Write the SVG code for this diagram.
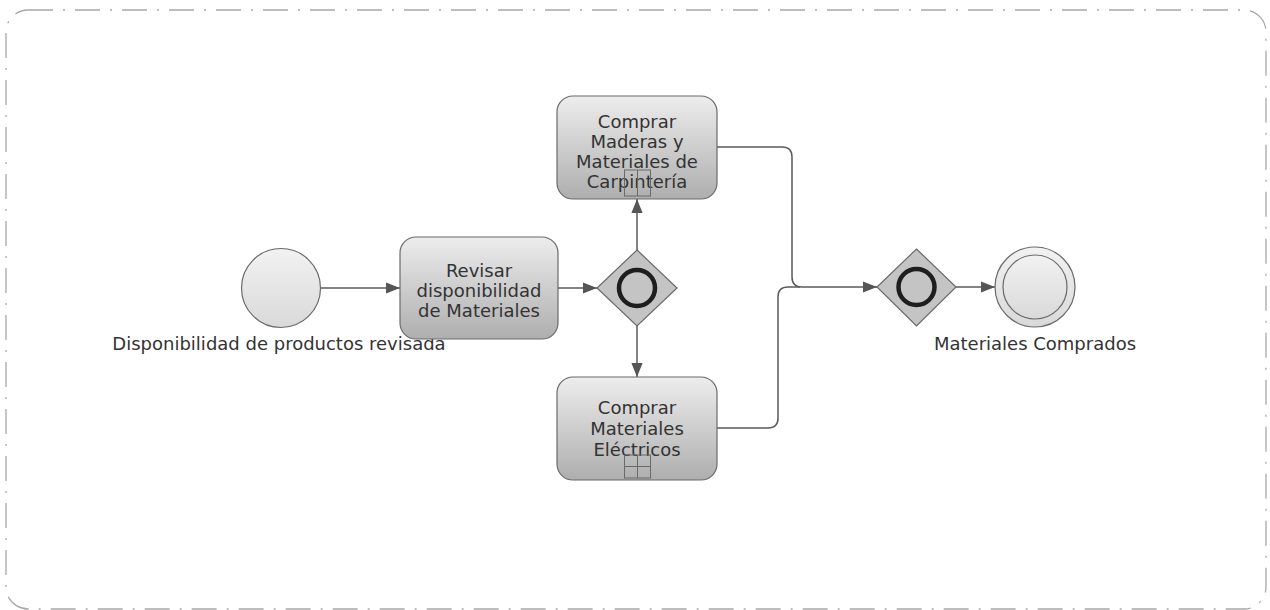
<svg xmlns="http://www.w3.org/2000/svg" width="1270" height="610" viewBox="0 0 1270 610">
  <defs>
    <linearGradient id="taskGrad" x1="0" y1="0" x2="0" y2="1">
      <stop offset="0" stop-color="#ededed"/>
      <stop offset="1" stop-color="#aeaeae"/>
    </linearGradient>
    <linearGradient id="eventGrad" x1="0" y1="0" x2="0" y2="1">
      <stop offset="0" stop-color="#f2f2f2"/>
      <stop offset="1" stop-color="#d9d9d9"/>
    </linearGradient>
    <marker id="arrow" viewBox="0 0 10 10" refX="10" refY="5" markerWidth="14" markerHeight="14" markerUnits="userSpaceOnUse" orient="auto">
      <path d="M0,1 L10,5 L0,9 Z" fill="#555"/>
    </marker>
    <style>
      .task { fill: url(#taskGrad); stroke: #6a6a6a; stroke-width: 1.2; }
      .event { fill: url(#eventGrad); stroke: #6a6a6a; stroke-width: 1.2; }
      .gw { fill: #c4c4c4; stroke: #6a6a6a; stroke-width: 1.2; }
      .ring { fill: none; stroke: #1e1e1e; stroke-width: 4.5; }
      .conn { fill: none; stroke: #5a5a5a; stroke-width: 1.5; }
      .mk { fill: none; stroke: #6a6a6a; stroke-width: 1; }
      .lbl { font-family: "DejaVu Sans", Verdana, sans-serif; font-size: 18px; fill: #333; text-anchor: middle; }
      .border { fill: none; stroke: #a8a8a8; stroke-width: 1.3; stroke-dasharray: 25 10 2 10; }
    </style>
  </defs>

  <rect class="border" x="6" y="10" width="1260" height="599" rx="22" ry="22"/>

  <g id="connectors">
    <line class="conn" x1="321" y1="288" x2="400" y2="288" marker-end="url(#arrow)"/>
    <line class="conn" x1="558" y1="288" x2="597" y2="288" marker-end="url(#arrow)"/>
    <line class="conn" x1="637" y1="250" x2="637" y2="199" marker-end="url(#arrow)"/>
    <line class="conn" x1="637" y1="326" x2="637" y2="377" marker-end="url(#arrow)"/>
    <path class="conn" d="M717,147 H782 Q792,147 792,157 V277 Q792,287 802,287 H877" marker-end="url(#arrow)"/>
    <path class="conn" d="M717,428 H768 Q778,428 778,418 V297 Q778,287 788,287 H800"/>
    <line class="conn" x1="956" y1="287" x2="995" y2="287" marker-end="url(#arrow)"/>
  </g>

  <g id="start">
    <circle class="event" cx="281" cy="288" r="39.5"/>
    <text class="lbl" x="279" y="350">Disponibilidad de productos revisada</text>
  </g>

  <g id="revisar">
    <rect class="task" x="400" y="237" width="158" height="102" rx="16" ry="16"/>
    <text class="lbl" x="479" y="277">Revisar</text>
    <text class="lbl" x="479" y="297">disponibilidad</text>
    <text class="lbl" x="479" y="317">de Materiales</text>
  </g>

  <g id="gateway1">
    <polygon class="gw" points="637,250 677,288 637,326 597,288"/>
    <circle class="ring" cx="637" cy="288" r="18"/>
  </g>

  <g id="comprarMaderas">
    <rect class="task" x="557" y="96" width="160" height="103" rx="16" ry="16"/>
    <text class="lbl" x="637" y="128">Comprar</text>
    <text class="lbl" x="637" y="148">Maderas y</text>
    <text class="lbl" x="637" y="168">Materiales de</text>
    <text class="lbl" x="637" y="188">Carpintería</text>
    <rect class="mk" x="624.5" y="170" width="26" height="26"/>
    <line class="mk" x1="637.5" y1="170" x2="637.5" y2="196"/>
  </g>

  <g id="comprarElectricos">
    <rect class="task" x="557" y="377" width="160" height="103" rx="16" ry="16"/>
    <text class="lbl" x="637" y="414">Comprar</text>
    <text class="lbl" x="637" y="435">Materiales</text>
    <text class="lbl" x="637" y="456">Eléctricos</text>
    <rect class="mk" x="624.5" y="455" width="26" height="23"/>
    <line class="mk" x1="637.5" y1="455" x2="637.5" y2="478"/>
    <line class="mk" x1="624.5" y1="466.5" x2="650.5" y2="466.5"/>
  </g>

  <g id="gateway2">
    <polygon class="gw" points="916.5,249 956,287 916.5,326 877,287"/>
    <circle class="ring" cx="916.5" cy="287" r="18"/>
  </g>

  <g id="end">
    <circle class="event" cx="1035" cy="287" r="40"/>
    <circle class="event" cx="1035" cy="287" r="32"/>
    <text class="lbl" x="1035" y="350">Materiales Comprados</text>
  </g>
</svg>
